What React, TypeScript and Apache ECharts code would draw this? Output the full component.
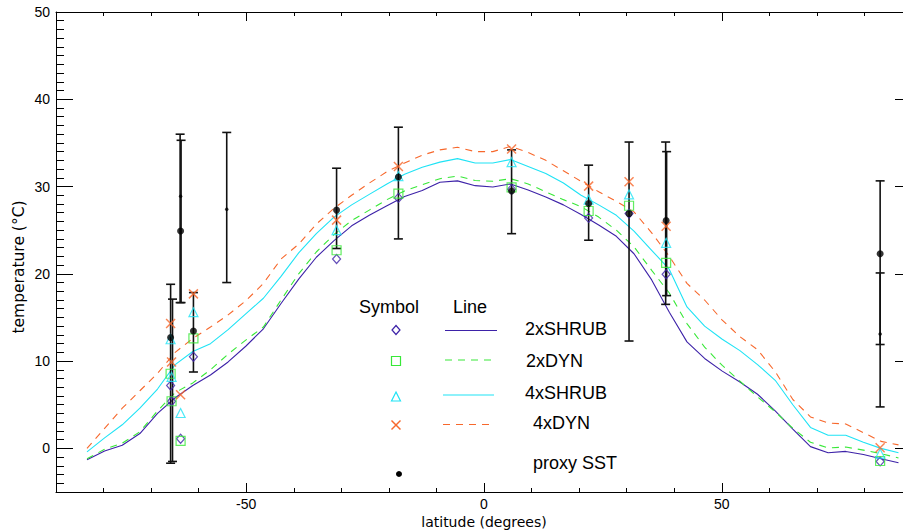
import { useEffect, useRef } from "react";
import * as echarts from "echarts";

// Model latitudes (degrees)
const lats = [-83.48, -79.78, -76.07, -72.36, -68.65, -64.94, -61.23, -57.52, -53.81, -50.1, -46.39, -42.68, -38.97, -35.26, -31.54, -27.83, -24.12, -20.41, -16.7, -12.99, -9.28, -5.57, -1.86, 1.86, 5.57, 9.28, 12.99, 16.7, 20.41, 24.12, 27.83, 31.54, 35.26, 38.97, 42.68, 46.39, 50.1, 53.81, 57.52, 61.23, 64.94, 68.65, 72.36, 76.07, 79.78, 83.48, 87.16];

// Zonal mean SST lines
const line2xShrub = [-1.3, -0.3, 0.35, 1.7, 4.0, 5.8, 7.2, 8.4, 9.9, 11.7, 13.7, 16.6, 19.4, 21.9, 23.8, 25.5, 26.7, 27.8, 28.85, 29.55, 30.5, 30.65, 30.1, 29.95, 30.3, 29.6, 28.8, 27.9, 26.8, 25.6, 24.3, 22.3, 19.3, 15.6, 12.2, 10.3, 8.85, 7.6, 6.2, 4.3, 2.2, 0.2, -0.5, -0.35, -0.7, -1.2, -1.65];
const line2xDyn = [-1.2, -0.1, 0.6, 1.9, 4.3, 6.4, 7.5, 9.0, 10.8, 12.4, 13.9, 17.0, 20.0, 22.5, 24.5, 26.1, 27.3, 28.5, 29.5, 30.2, 30.9, 31.2, 30.7, 30.6, 30.9, 30.3, 29.4, 28.5, 27.7, 26.5, 25.0, 23.1, 20.4, 17.8, 14.3, 11.6, 9.5, 7.7, 5.9, 4.2, 2.3, 0.7, 0.05, 0.15, -0.2, -0.6, -1.1];
const line4xShrub = [-0.4, 1.2, 2.7, 4.6, 6.8, 9.6, 11.1, 12.0, 13.6, 15.4, 17.2, 19.7, 22.4, 24.6, 26.5, 27.9, 29.1, 30.3, 31.4, 32.2, 32.8, 33.2, 32.7, 32.7, 33.1, 32.3, 31.5, 30.4, 29.0, 27.9, 26.7, 24.9, 22.7, 20.5, 16.2, 14.0, 12.5, 11.2, 9.6, 7.8, 5.0, 2.4, 1.5, 1.5, 0.7, 0.0, -0.5];
const line4xDyn = [0.0, 2.3, 4.6, 6.6, 8.6, 11.0, 12.6, 13.9, 15.3, 16.9, 18.9, 21.7, 23.4, 25.7, 27.5, 29.0, 30.4, 31.7, 32.7, 33.6, 34.2, 34.5, 34.0, 34.0, 34.6, 33.9, 33.0, 31.8, 30.6, 29.4, 28.3, 27.1, 24.7, 22.0, 18.9, 17.0, 14.7, 12.8, 11.3, 8.8, 5.6, 3.6, 2.9, 2.8, 1.8, 0.8, 0.4];

// Model values at proxy sites (symbols)
const siteLat = [-65.9, -65.7, -63.8, -61.1, -31.0, -18.0, 5.8, 22.0, 30.5, 38.3, 83.3];
const sym2xShrub = [7.2, 5.4, 1.1, 10.5, 21.7, 28.7, 29.7, 26.4, 26.9, 19.95, -1.5];
const sym2xDyn = [8.55, 5.4, 0.85, 12.6, 22.7, 29.2, 29.9, 27.2, 27.8, 21.25, -1.45];
const sym4xShrub = [12.5, 8.2, 4.05, 15.6, 25.0, 31.2, 32.8, 28.5, 29.1, 23.55, -0.6];
const sym4xDyn = [14.3, 9.9, 6.15, 17.7, 26.15, 32.3, 34.3, 30.05, 30.55, 25.45, 0.08];

// Proxy SST
const proxyLat = [-65.9, -63.8, -61.1, -31.0, -18.0, 5.8, 22.0, 30.5, 38.3, 83.3];
const proxySST = [12.7, 24.9, 13.45, 27.3, 31.1, 29.5, 28.05, 26.9, 26.1, 22.3];

// Proxy ranges (error bars)
const errLat = [-65.9, -65.5, -63.9, -63.7, -61.1, -54.1, -31.0, -18.0, 5.8, 22.0, 30.5, 38.2, 38.4, 83.3, 83.3];
const errLow = [-1.7, -1.5, 16.7, 16.7, 8.75, 19.0, 22.9, 24.0, 24.6, 23.85, 12.3, 16.5, 17.5, 11.9, 4.75];
const errHigh = [18.8, 17.1, 36.0, 35.3, 17.85, 36.2, 32.1, 36.8, 34.2, 32.45, 35.1, 35.1, 34.0, 30.65, 20.1];

// Range mid-points
const midLat = [-63.8, -54.1, 83.3];
const midVal = [28.9, 27.4, 13.1];

const PURPLE = "#3d22a8";
const GREEN = "#38e838";
const CYAN = "#1fe3f5";
const ORANGE = "#f7682c";
const XPATH = "path://M0,0L10,10M10,0L0,10";
const FONT = "Liberation Sans";
const TITLE_FONT = "DejaVu Sans";

export default function App() {
  const ref = useRef<HTMLDivElement>(null);
  useEffect(() => {
    const chart = echarts.init(ref.current!, null, { renderer: "svg" });
    const zip = (a: number[], b: number[]) => a.map((v, i) => [v, b[i]]);
    const lineSeries = (name: string, vals: number[], color: string, dashed: boolean) => ({
      name,
      type: "line",
      data: zip(lats, vals),
      showSymbol: false,
      symbol: "none",
      lineStyle: { color, width: 1.1, type: dashed ? [7, 6] : "solid" },
      z: 2,
    });
    const symSeries = (vals: number[], symbol: string, size: any, color: string) => ({
      type: "scatter",
      data: zip(siteLat, vals),
      symbol,
      symbolSize: size,
      itemStyle: { color: "rgba(0,0,0,0)", borderColor: color, borderWidth: 1.2 },
      z: 5,
    });
    const axisTextStyle = { fontFamily: FONT, fontSize: 14, lineHeight: 14, color: "#000" };
    const lineStyle = { color: "#000", width: 1 };
    const txt = (text: string, x: number, y: number, size = 18) => ({
      type: "text",
      x,
      y,
      style: { text, fontFamily: FONT, fontSize: size, fill: "#000", verticalAlign: "middle" },
      z: 100,
    });
    const option: any = {
      animation: false,
      backgroundColor: "#fff",
      grid: { left: 56, top: 12, right: 0, bottom: 38, containLabel: false, outerBoundsMode: "none" },
      xAxis: [
        {
          type: "value", position: "bottom", min: -90, max: 90, splitNumber: 4,
          axisLine: { show: true, lineStyle, onZero: false },
          axisTick: { show: true, inside: true, length: 9, lineStyle },
          axisLabel: { ...axisTextStyle, margin: 5, showMinLabel: false, showMaxLabel: false },
          splitLine: { show: false },
        },
        {
          type: "value", position: "bottom", min: -90, max: 90, interval: 10,
          axisLine: { show: false, onZero: false },
          axisTick: { show: true, inside: true, length: 4, lineStyle },
          axisLabel: { show: false }, splitLine: { show: false },
        },
        {
          type: "value", position: "top", min: -90, max: 90, splitNumber: 4,
          axisLine: { show: true, lineStyle, onZero: false },
          axisTick: { show: true, inside: true, length: 9, lineStyle },
          axisLabel: { show: false }, splitLine: { show: false },
        },
        {
          type: "value", position: "top", min: -90, max: 90, interval: 10,
          axisLine: { show: false, onZero: false },
          axisTick: { show: true, inside: true, length: 4, lineStyle },
          axisLabel: { show: false }, splitLine: { show: false },
        },
      ],
      yAxis: [
        {
          type: "value", position: "left", min: -5, max: 50, splitNumber: 5,
          axisLine: { show: true, lineStyle, onZero: false },
          axisTick: { show: true, inside: true, length: 17, lineStyle },
          axisLabel: { ...axisTextStyle, margin: 6, showMinLabel: false },
          splitLine: { show: false },
        },
        {
          type: "value", position: "left", min: -5, max: 50, interval: 1,
          axisLine: { show: false, onZero: false },
          axisTick: { show: true, inside: true, length: 8, lineStyle },
          axisLabel: { show: false }, splitLine: { show: false },
        },
        {
          type: "value", position: "right", min: -5, max: 50, splitNumber: 5,
          axisLine: { show: true, lineStyle, onZero: false },
          axisTick: { show: true, inside: true, length: 17, lineStyle },
          axisLabel: { show: false }, splitLine: { show: false },
        },
      ],
      series: [
        lineSeries("2xSHRUB", line2xShrub, PURPLE, false),
        lineSeries("2xDYN", line2xDyn, GREEN, true),
        lineSeries("4xSHRUB", line4xShrub, CYAN, false),
        lineSeries("4xDYN", line4xDyn, ORANGE, true),
        {
          type: "custom",
          data: errLat.map((la, i) => [la, errLow[i], errHigh[i]]),
          z: 4,
          renderItem: (params: any, api: any) => {
            const x = api.value(0);
            const lo = api.coord([x, api.value(1)]);
            const hi = api.coord([x, api.value(2)]);
            const w = 4.5;
            const st = { stroke: "#111", lineWidth: 1.6 };
            return {
              type: "group",
              children: [
                { type: "line", shape: { x1: lo[0], y1: lo[1], x2: hi[0], y2: hi[1] }, style: st },
                { type: "line", shape: { x1: lo[0] - w, y1: lo[1], x2: lo[0] + w, y2: lo[1] }, style: st },
                { type: "line", shape: { x1: hi[0] - w, y1: hi[1], x2: hi[0] + w, y2: hi[1] }, style: st },
              ],
            };
          },
        },
        symSeries(sym2xShrub, "diamond", [8, 9], PURPLE),
        symSeries(sym2xDyn, "rect", 9, GREEN),
        symSeries(sym4xShrub, "triangle", 9, CYAN),
        {
          type: "scatter",
          data: zip(siteLat, sym4xDyn),
          symbol: XPATH,
          symbolSize: 9,
          itemStyle: { color: "none", borderColor: ORANGE, borderWidth: 1.5 },
          z: 5,
        },
        {
          type: "scatter",
          data: zip(proxyLat, proxySST),
          symbol: "circle",
          symbolSize: 7,
          itemStyle: { color: "#000" },
          z: 6,
        },
        {
          type: "scatter",
          data: zip(midLat, midVal),
          symbol: "circle",
          symbolSize: 3.5,
          itemStyle: { color: "#000" },
          z: 6,
        },
      ],
      graphic: [
        {
          type: "text", x: 484, y: 522, z: 100,
          style: { text: "latitude (degrees)", fontFamily: TITLE_FONT, fontSize: 14, lineHeight: 14, fill: "#000", align: "center", verticalAlign: "middle" },
        },
        {
          type: "text", x: 19, y: 267, rotation: Math.PI / 2, z: 100,
          style: { text: "temperature (°C)", fontFamily: TITLE_FONT, fontSize: 15.5, fill: "#000", align: "center", verticalAlign: "middle" },
        },
        txt("Symbol", 359, 307),
        txt("Line", 453, 307),
        { type: "polygon", shape: { points: [[396, 325.5], [400, 330], [396, 334.5], [392, 330]] }, style: { fill: "none", stroke: PURPLE, lineWidth: 1.2 }, z: 100 },
        { type: "line", shape: { x1: 445, y1: 330.5, x2: 497, y2: 330.5 }, style: { stroke: PURPLE, lineWidth: 1.1 }, z: 100 },
        txt("2xSHRUB", 525, 329),
        { type: "rect", shape: { x: 391.5, y: 356.5, width: 9, height: 9 }, style: { fill: "none", stroke: GREEN, lineWidth: 1.2 }, z: 100 },
        { type: "line", shape: { x1: 445, y1: 360, x2: 497, y2: 360 }, style: { stroke: GREEN, lineWidth: 1.1, lineDash: [7, 6] }, z: 100 },
        txt("2xDYN", 526, 360.5),
        { type: "polygon", shape: { points: [[396, 392], [400.5, 401], [391.5, 401]] }, style: { fill: "none", stroke: CYAN, lineWidth: 1.2 }, z: 100 },
        { type: "line", shape: { x1: 443, y1: 395, x2: 494, y2: 395 }, style: { stroke: CYAN, lineWidth: 1.1 }, z: 100 },
        txt("4xSHRUB", 525, 393),
        { type: "line", shape: { x1: 391.5, y1: 420.5, x2: 400.5, y2: 429.5 }, style: { stroke: ORANGE, lineWidth: 1.5 }, z: 100 },
        { type: "line", shape: { x1: 400.5, y1: 420.5, x2: 391.5, y2: 429.5 }, style: { stroke: ORANGE, lineWidth: 1.5 }, z: 100 },
        { type: "line", shape: { x1: 443, y1: 424.5, x2: 494, y2: 424.5 }, style: { stroke: ORANGE, lineWidth: 1.1, lineDash: [7, 6] }, z: 100 },
        txt("4xDYN", 533, 423),
        { type: "circle", shape: { cx: 399, cy: 474, r: 3 }, style: { fill: "#000" }, z: 100 },
        txt("proxy SST", 533, 463),
      ],
    };
    chart.setOption(option);
    return () => chart.dispose();
  }, []);
  return (
    <div style={{ position: "absolute", left: 0, top: 0, width: 903, height: 530, overflow: "hidden", background: "#fff" }}>
      <div ref={ref} style={{ width: 912, height: 530 }} />
    </div>
  );
}
